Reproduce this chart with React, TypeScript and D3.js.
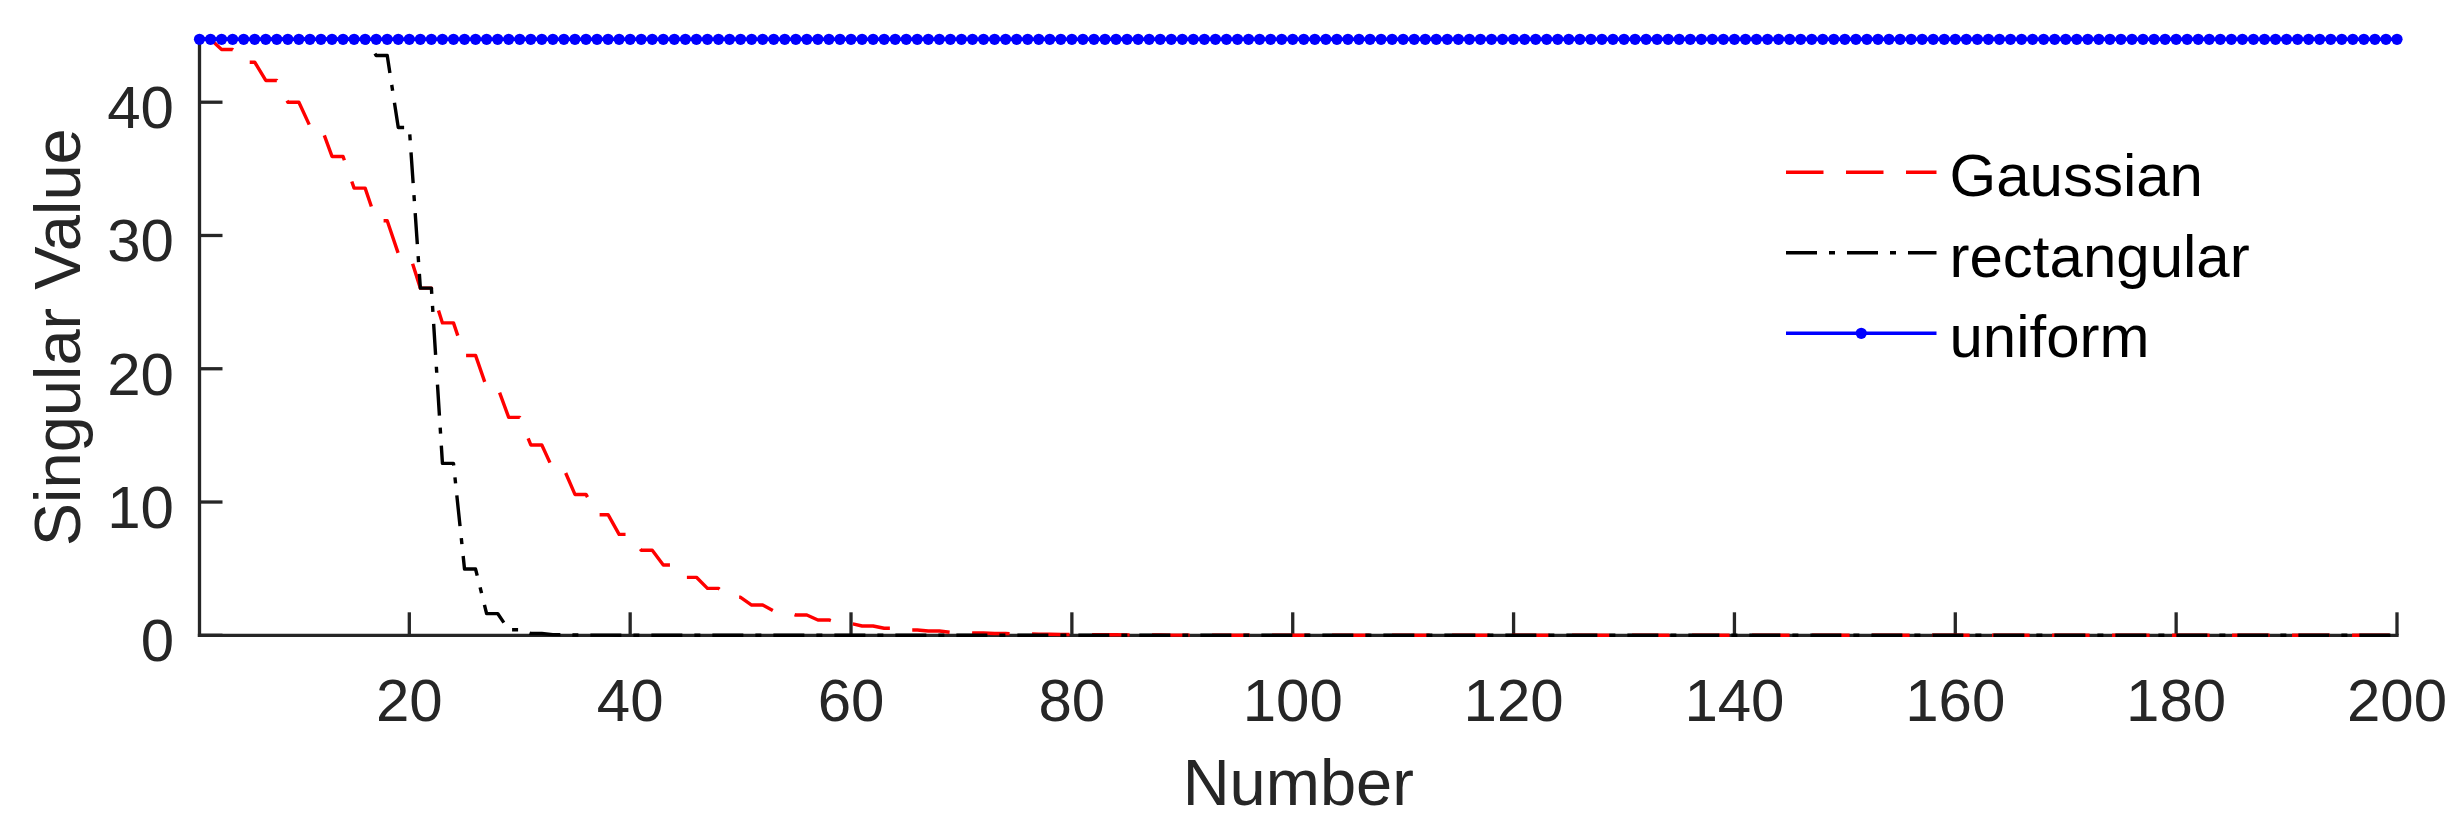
import React from 'react';
import * as d3 from 'd3';

const xTicks = [20, 40, 60, 80, 100, 120, 140, 160, 180, 200];
const yTicks = [0, 10, 20, 30, 40];
const seriesNames = ['Gaussian', 'rectangular', 'uniform'];

const gaussian = [
  44.72, 44.72, 43.95, 43.95, 43.0, 43.0, 41.63, 41.63, 40.0, 40.0,
  38.2, 38.2, 35.93, 35.93, 33.55, 33.55, 31.1, 31.1, 28.65, 28.65,
  26.05, 26.05, 23.44, 23.44, 21.0, 21.0, 18.6, 18.6, 16.35, 16.35,
  14.28, 14.28, 12.48, 12.48, 10.57, 10.57, 9.05, 9.05, 7.57, 7.57,
  6.38, 6.38, 5.28, 5.28, 4.35, 4.35, 3.52, 3.52, 2.85, 2.85,
  2.27, 2.27, 1.82, 1.82, 1.52, 1.52, 1.15, 1.15, 0.88, 0.88,
  0.7, 0.7, 0.53, 0.53, 0.4, 0.4, 0.32, 0.32, 0.22, 0.22,
  0.17, 0.17, 0.14, 0.14, 0.1, 0.1, 0.08, 0.08, 0.06, 0.06,
  0.05, 0.05, 0.04, 0.04, 0.03, 0.03, 0.02, 0.02, 0.015, 0.015,
  0.01, 0.01, 0, 0, 0, 0, 0, 0, 0, 0,
  0, 0, 0, 0, 0, 0, 0, 0, 0, 0,
  0, 0, 0, 0, 0, 0, 0, 0, 0, 0,
  0, 0, 0, 0, 0, 0, 0, 0, 0, 0,
  0, 0, 0, 0, 0, 0, 0, 0, 0, 0,
  0, 0, 0, 0, 0, 0, 0, 0, 0, 0,
  0, 0, 0, 0, 0, 0, 0, 0, 0, 0,
  0, 0, 0, 0, 0, 0, 0, 0, 0, 0,
  0, 0, 0, 0, 0, 0, 0, 0, 0, 0,
  0, 0, 0, 0, 0, 0, 0, 0, 0, 0,
  0, 0, 0, 0, 0, 0, 0, 0, 0, 0,
];

const rectangular = [
  44.72, 44.72, 44.72, 44.72, 44.72, 44.72, 44.72, 44.72, 44.72, 44.72,
  44.72, 44.72, 44.72, 44.72, 44.72, 44.72, 43.5, 43.5, 38.1, 38.1,
  26.05, 26.05, 12.9, 12.9, 4.97, 4.97, 1.63, 1.63, 0.42, 0.42,
  0.13, 0.13, 0.05, 0.05, 0.02, 0.02, 0.01, 0.01, 0, 0,
  0, 0, 0, 0, 0, 0, 0, 0, 0, 0,
  0, 0, 0, 0, 0, 0, 0, 0, 0, 0,
  0, 0, 0, 0, 0, 0, 0, 0, 0, 0,
  0, 0, 0, 0, 0, 0, 0, 0, 0, 0,
  0, 0, 0, 0, 0, 0, 0, 0, 0, 0,
  0, 0, 0, 0, 0, 0, 0, 0, 0, 0,
  0, 0, 0, 0, 0, 0, 0, 0, 0, 0,
  0, 0, 0, 0, 0, 0, 0, 0, 0, 0,
  0, 0, 0, 0, 0, 0, 0, 0, 0, 0,
  0, 0, 0, 0, 0, 0, 0, 0, 0, 0,
  0, 0, 0, 0, 0, 0, 0, 0, 0, 0,
  0, 0, 0, 0, 0, 0, 0, 0, 0, 0,
  0, 0, 0, 0, 0, 0, 0, 0, 0, 0,
  0, 0, 0, 0, 0, 0, 0, 0, 0, 0,
  0, 0, 0, 0, 0, 0, 0, 0, 0, 0,
  0, 0, 0, 0, 0, 0, 0, 0, 0, 0,
];

const uniform = [
  44.72, 44.72, 44.72, 44.72, 44.72, 44.72, 44.72, 44.72, 44.72, 44.72,
  44.72, 44.72, 44.72, 44.72, 44.72, 44.72, 44.72, 44.72, 44.72, 44.72,
  44.72, 44.72, 44.72, 44.72, 44.72, 44.72, 44.72, 44.72, 44.72, 44.72,
  44.72, 44.72, 44.72, 44.72, 44.72, 44.72, 44.72, 44.72, 44.72, 44.72,
  44.72, 44.72, 44.72, 44.72, 44.72, 44.72, 44.72, 44.72, 44.72, 44.72,
  44.72, 44.72, 44.72, 44.72, 44.72, 44.72, 44.72, 44.72, 44.72, 44.72,
  44.72, 44.72, 44.72, 44.72, 44.72, 44.72, 44.72, 44.72, 44.72, 44.72,
  44.72, 44.72, 44.72, 44.72, 44.72, 44.72, 44.72, 44.72, 44.72, 44.72,
  44.72, 44.72, 44.72, 44.72, 44.72, 44.72, 44.72, 44.72, 44.72, 44.72,
  44.72, 44.72, 44.72, 44.72, 44.72, 44.72, 44.72, 44.72, 44.72, 44.72,
  44.72, 44.72, 44.72, 44.72, 44.72, 44.72, 44.72, 44.72, 44.72, 44.72,
  44.72, 44.72, 44.72, 44.72, 44.72, 44.72, 44.72, 44.72, 44.72, 44.72,
  44.72, 44.72, 44.72, 44.72, 44.72, 44.72, 44.72, 44.72, 44.72, 44.72,
  44.72, 44.72, 44.72, 44.72, 44.72, 44.72, 44.72, 44.72, 44.72, 44.72,
  44.72, 44.72, 44.72, 44.72, 44.72, 44.72, 44.72, 44.72, 44.72, 44.72,
  44.72, 44.72, 44.72, 44.72, 44.72, 44.72, 44.72, 44.72, 44.72, 44.72,
  44.72, 44.72, 44.72, 44.72, 44.72, 44.72, 44.72, 44.72, 44.72, 44.72,
  44.72, 44.72, 44.72, 44.72, 44.72, 44.72, 44.72, 44.72, 44.72, 44.72,
  44.72, 44.72, 44.72, 44.72, 44.72, 44.72, 44.72, 44.72, 44.72, 44.72,
  44.72, 44.72, 44.72, 44.72, 44.72, 44.72, 44.72, 44.72, 44.72, 44.72,
];

const FONT = '"Liberation Sans", Arial, Helvetica, sans-serif';
const AXIS = '#262626';

export default function App() {
  const W = 2462;
  const H = 833;
  const x = d3.scaleLinear().domain([1, 200]).range([199.5, 2397]);
  const y = d3.scaleLinear().domain([0, 44.72]).range([635.3, 39.3]);
  const line = d3
    .line<number>()
    .x((_, i) => x(i + 1))
    .y((d) => y(d));

  const styles = [
    { stroke: '#ff0000', dash: '37.5 22.5' },
    { stroke: '#000000', dash: '31 12 6 12' },
    { stroke: '#0000ff', dash: undefined as string | undefined },
  ];
  const data = [gaussian, rectangular, uniform];

  const x0 = x.range()[0];
  const x1 = x.range()[1];
  const y0 = y.range()[0];
  const y1 = y.range()[1];

  const legX0 = 1786;
  const legX1 = 1936.5;
  const legTextX = 1949.5;
  const legY = [172.3, 252.8, 333.3];

  return (
    <svg
      width={W}
      height={H}
      viewBox={`0 0 ${W} ${H}`}
      style={{ position: 'absolute', left: 0, top: 0, display: 'block', background: '#fff' }}
      fontFamily={FONT}
    >
      <rect x={0} y={0} width={W} height={H} fill="#ffffff" />
      {/* axes */}
      <g stroke={AXIS} strokeWidth={3.3} fill="none">
        <line x1={x0} y1={y0} x2={x1} y2={y0} strokeLinecap="square" />
        <line x1={x0} y1={y0} x2={x0} y2={y1} strokeLinecap="square" />
        {xTicks.map((t) => (
          <line key={'xt' + t} x1={x(t)} x2={x(t)} y1={y0} y2={y0 - 23} />
        ))}
        {yTicks.map((t) => (
          <line key={'yt' + t} x1={x0} x2={x0 + 23} y1={y(t)} y2={y(t)} />
        ))}
      </g>
      <g fill={AXIS} fontSize={60}>
        {xTicks.map((t) => (
          <text key={'xl' + t} x={x(t)} y={y0 + 86} textAnchor="middle">
            {t}
          </text>
        ))}
        {yTicks.map((t) => (
          <text key={'yl' + t} x={174} y={y(t) + 26} textAnchor="end">
            {t}
          </text>
        ))}
      </g>
      <text x={(x0 + x1) / 2} y={805} textAnchor="middle" fontSize={65} fill={AXIS}>
        Number
      </text>
      <text
        transform={`translate(80, ${(y0 + y1) / 2}) rotate(-90)`}
        textAnchor="middle"
        fontSize={65}
        fill={AXIS}
      >
        Singular Value
      </text>

      {/* series */}
      {data.map((arr, k) => (
        <path
          key={'s' + k}
          d={line(arr) || ''}
          fill="none"
          stroke={styles[k].stroke}
          strokeWidth={3.4}
          strokeDasharray={styles[k].dash}
          strokeLinejoin="round"
        />
      ))}
      {uniform.map((v, i) => (
        <circle key={'m' + i} cx={x(i + 1)} cy={y(v)} r={5.6} fill="#0000ff" />
      ))}

      {/* legend */}
      {seriesNames.map((name, k) => (
        <g key={'lg' + k}>
          <line
            x1={legX0}
            x2={legX1}
            y1={legY[k]}
            y2={legY[k]}
            stroke={styles[k].stroke}
            strokeWidth={3.4}
            strokeDasharray={styles[k].dash}
          />
          {k === 2 && <circle cx={(legX0 + legX1) / 2} cy={legY[k]} r={5.6} fill="#0000ff" />}
          <text x={legTextX} y={legY[k] + 24} fontSize={60} fill="#000">
            {name}
          </text>
        </g>
      ))}
    </svg>
  );
}
